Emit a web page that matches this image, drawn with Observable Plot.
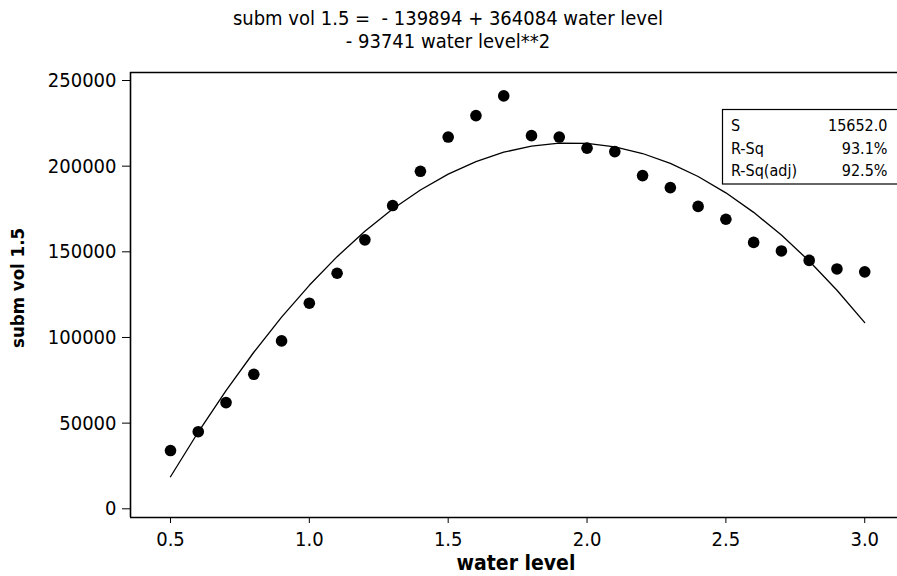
<!DOCTYPE html>
<html><head><meta charset="utf-8">
<script src="https://cdn.jsdelivr.net/npm/d3@7"></script>
<script src="https://cdn.jsdelivr.net/npm/@observablehq/plot@0.6"></script>
<style>
html,body{margin:0;padding:0;background:#fff;}
#wrap{position:relative;width:897px;height:576px;overflow:hidden;font-family:"DejaVu Sans Condensed","DejaVu Sans",sans-serif;font-stretch:condensed;}
#chart{position:absolute;left:0;top:0;}
#anno{position:absolute;left:0;top:0;}
#anno text{font-family:"DejaVu Sans Condensed","DejaVu Sans",sans-serif;font-stretch:condensed;fill:#000;white-space:pre;}
</style></head><body>
<div id="wrap"><div id="chart"></div><svg id="anno" width="897" height="576"></svg></div>
<script>
// ---- data ----
const waterLevel = [0.5,0.6,0.7,0.8,0.9,1.0,1.1,1.2,1.3,1.4,1.5,1.6,1.7,1.8,1.9,2.0,2.1,2.2,2.3,2.4,2.5,2.6,2.7,2.8,2.9,3.0];
const submVol = [34000,45000,62000,78500,98000,120000,137500,157000,177000,197000,217000,229500,241000,217800,217000,210500,208500,194500,187500,176500,169000,155500,150500,145000,140000,138300];
const fitValues = [18713,44810,69032,91379,111851,130449,147172,162020,174993,186091,195315,202663,208137,211736,213461,213310,211285,207384,201609,193959,184435,173035,159761,144612,127588,108689];
const titleLines = ["subm vol 1.5 =  - 139894 + 364084 water level", "- 93741 water level**2"];
const xLabel = "water level";
const yLabel = "subm vol 1.5";
const xTicks = [0.5,1.0,1.5,2.0,2.5,3.0];
const yTicks = [0,50000,100000,150000,200000,250000];
const statNames = ["S","R-Sq","R-Sq(adj)"];
const statValues = ["15652.0","93.1%","92.5%"];

const points = waterLevel.map((x,i)=>({x, y: submVol[i]}));
const fit = waterLevel.map((x,i)=>({x, y: fitValues[i]}));
const xDomain = [0.356, 3.118];
const yDomain = [-5078, 254670];
const FONT = '"DejaVu Sans Condensed","DejaVu Sans",sans-serif';

const chart = Plot.plot({
  width: 897, height: 576,
  marginLeft: 130, marginRight: 0, marginTop: 72, marginBottom: 59,
  x: {domain: xDomain},
  y: {domain: yDomain},
  style: {fontFamily: FONT, fontSize: "20px", color: "#000", background: "transparent"},
  marks: [
    Plot.axisX({ticks: xTicks, tickFormat: d3.format(".1f"), tickSize: 6, tickPadding: 8, label: null, fontSize: 20}),
    Plot.axisY({ticks: yTicks, tickFormat: d => String(d), tickSize: 8, tickPadding: 6, label: null, fontSize: 20}),
    Plot.ruleX([xDomain[0]], {stroke: "#000", strokeWidth: 1.6}),
    Plot.ruleY(yDomain, {stroke: "#000", strokeWidth: 1.6}),
    Plot.line(fit, {x: "x", y: "y", stroke: "#000", strokeWidth: 1.3}),
    Plot.dot(points, {x: "x", y: "y", r: 5.8, fill: "#000", stroke: "none"})
  ]
});
document.getElementById("chart").appendChild(chart);

// ---- annotations ----
const svg = d3.select("#anno");
svg.selectAll("text.title").data(titleLines).join("text")
  .attr("class","title").attr("x", 448).attr("y", (d,i)=>25 + i*23)
  .attr("text-anchor","middle").attr("font-size", 20).text(d=>d);
svg.append("text").attr("x", 516).attr("y", 570).attr("text-anchor","middle")
  .attr("font-size", 21).attr("font-weight","bold").text(xLabel);
svg.append("text").attr("transform","translate(24,288) rotate(-90)").attr("text-anchor","middle")
  .attr("font-size", 18.5).attr("font-weight","bold").text(yLabel);
const box = svg.append("g");
box.append("rect").attr("x",722.5).attr("y",109.5).attr("width",176).attr("height",74.5)
  .attr("fill","#fff").attr("stroke","#000").attr("stroke-width",1.2);
statNames.forEach((n,i)=>{
  box.append("text").attr("x",731).attr("y",131 + i*22.5).attr("font-size",16).text(n);
  box.append("text").attr("x",887.5).attr("y",131 + i*22.5).attr("font-size",16).attr("text-anchor","end").text(statValues[i]);
});
</script>
</body></html>
